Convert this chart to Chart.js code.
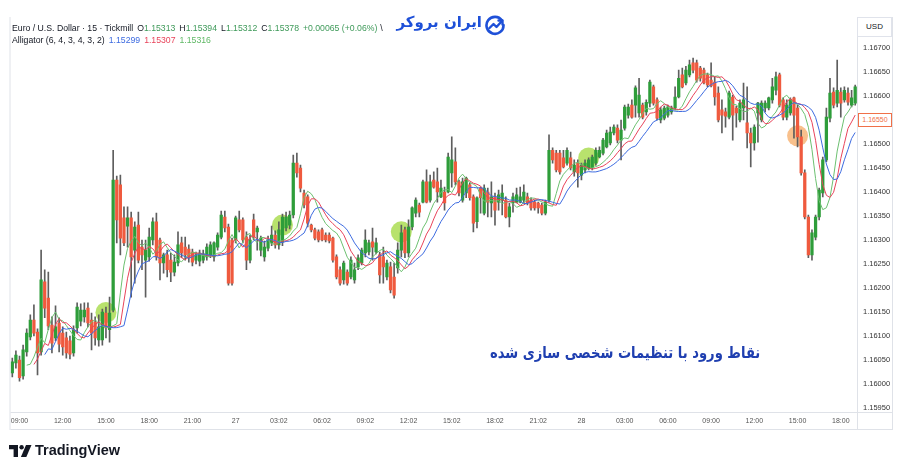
<!DOCTYPE html>
<html>
<head>
<meta charset="utf-8">
<script src="https://cdn.jsdelivr.net/npm/chart.js@4.4.1/dist/chart.umd.min.js"></script>
<style>
html,body{margin:0;padding:0;background:#fff;}
#wrap{position:relative;width:900px;height:471px;overflow:hidden;font-family:"Liberation Sans",Arial,sans-serif;}
#c{position:absolute;left:0;top:0;}
.hdr{position:absolute;left:12px;font-size:8.7px;color:#131722;white-space:nowrap;line-height:10px;}
.hdr .g{color:#3f9a5a;}
.hdr .sp{margin-left:4px;}
.hdr .sp2{margin-left:3px;}
.logo{position:absolute;right:418px;top:13px;font-family:"DejaVu Sans",sans-serif;font-weight:bold;font-size:15px;color:#1e50d8;direction:rtl;white-space:nowrap;}
.usd{position:absolute;left:857px;top:17px;width:35px;height:20px;border:1px solid #e0e3eb;box-sizing:border-box;background:#fff;font-size:8px;color:#131722;text-align:center;line-height:18px;}
.pbox{position:absolute;left:858px;top:113px;width:34px;height:14px;border:1px solid #f07048;box-sizing:border-box;background:#fff;font-size:7px;color:#f07048;text-align:center;line-height:12px;}
.fa{position:absolute;left:490px;top:343px;font-family:"DejaVu Sans",sans-serif;font-weight:bold;font-size:16px;color:#1f3fb0;direction:rtl;white-space:nowrap;transform:scaleX(0.82);transform-origin:0 0;}
.tv{position:absolute;left:35px;top:442px;font-family:"Liberation Sans",Arial,sans-serif;font-weight:bold;font-size:14.5px;color:#131722;white-space:nowrap;}
</style>
</head>
<body>
<div id="wrap">
<canvas id="c" width="900" height="471"></canvas>
<div class="hdr" style="top:23px">Euro / U.S. Dollar · 15 · Tickmill<span class="sp">O</span><span class="g">1.15313</span><span class="sp">H</span><span class="g">1.15394</span><span class="sp">L</span><span class="g">1.15312</span><span class="sp">C</span><span class="g">1.15378</span><span class="sp g">+0.00065 (+0.06%)</span><span class="sp2">\</span></div>
<div class="hdr" style="top:35px">Alligator (6, 4, 3, 4, 3, 2)<span class="sp" style="color:#3d6be0">1.15299</span><span class="sp" style="color:#e8435a">1.15307</span><span class="sp" style="color:#5fb865">1.15316</span></div>
<div class="logo">ایران بروکر</div>
<svg style="position:absolute;left:484px;top:14px" width="22" height="22" viewBox="0 0 22 22"><path d="M18 6.5A8.5 8.5 0 1 0 19.5 11" fill="none" stroke="#1e50d8" stroke-width="2.6" stroke-linecap="round"/><path d="M5.5 14l4-4 3 3 5-5.5" fill="none" stroke="#1e50d8" stroke-width="2.4" stroke-linecap="round" stroke-linejoin="round"/><path d="M14.5 6.5h4v4" fill="none" stroke="#1e50d8" stroke-width="2.4" stroke-linecap="round" stroke-linejoin="round"/></svg>
<div class="usd">USD</div>
<div class="pbox">1.16550</div>
<div class="fa">نقاط ورود با تنظیمات شخصی سازی شده</div>
<svg style="position:absolute;left:9px;top:445px" width="23" height="12" viewBox="0 0 23 12"><path d="M0 0h9v12H4.6V4.2H0z" fill="#131722"/><circle cx="12.6" cy="2.2" r="2.2" fill="#131722"/><path d="M17 0h5.5l-5.2 12h-5.4z" fill="#131722"/></svg>
<div class="tv">TradingView</div>
</div>
<script>
// ---- Data (EUR/USD, 15 min candles) ----
const open = [1.16023,1.16044,1.16050,1.16017,1.16067,1.16098,1.16133,1.16108,1.16067,1.16213,1.16179,1.16123,1.16096,1.16127,1.16106,1.16096,1.16090,1.16065,1.16117,1.16131,1.16140,1.16158,1.16133,1.16129,1.16092,1.16092,1.16148,1.16113,1.16154,1.16425,1.16415,1.16346,1.16329,1.16346,1.16279,1.16331,1.16285,1.16258,1.16265,1.16300,1.16338,1.16300,1.16252,1.16269,1.16258,1.16233,1.16252,1.16294,1.16285,1.16281,1.16275,1.16258,1.16256,1.16258,1.16265,1.16269,1.16265,1.16285,1.16306,1.16348,1.16327,1.16300,1.16300,1.16342,1.16342,1.16306,1.16258,1.16342,1.16317,1.16279,1.16265,1.16283,1.16294,1.16310,1.16290,1.16296,1.16325,1.16331,1.16352,1.16460,1.16450,1.16398,1.16390,1.16331,1.16321,1.16317,1.16321,1.16310,1.16310,1.16304,1.16265,1.16238,1.16217,1.16233,1.16223,1.16217,1.16244,1.16252,1.16273,1.16275,1.16296,1.16275,1.16269,1.16265,1.16223,1.16244,1.16223,1.16242,1.16279,1.16321,1.16273,1.16327,1.16356,1.16373,1.16379,1.16421,1.16383,1.16425,1.16421,1.16390,1.16400,1.16400,1.16440,1.16463,1.16421,1.16383,1.16398,1.16415,1.16390,1.16338,1.16408,1.16356,1.16400,1.16377,1.16390,1.16379,1.16383,1.16383,1.16348,1.16377,1.16379,1.16379,1.16383,1.16390,1.16383,1.16379,1.16377,1.16373,1.16356,1.16383,1.16487,1.16481,1.16481,1.16471,1.16460,1.16471,1.16442,1.16460,1.16435,1.16446,1.16450,1.16450,1.16460,1.16473,1.16481,1.16494,1.16502,1.16523,1.16533,1.16508,1.16533,1.16560,1.16581,1.16581,1.16565,1.16581,1.16567,1.16585,1.16619,1.16592,1.16550,1.16554,1.16560,1.16567,1.16575,1.16598,1.16644,1.16627,1.16644,1.16669,1.16669,1.16658,1.16654,1.16644,1.16633,1.16629,1.16606,1.16571,1.16567,1.16556,1.16598,1.16575,1.16550,1.16575,1.16544,1.16523,1.16502,1.16565,1.16550,1.16575,1.16575,1.16592,1.16612,1.16644,1.16592,1.16556,1.16565,1.16596,1.16575,1.16515,1.16440,1.16348,1.16269,1.16306,1.16348,1.16398,1.16467,1.16554,1.16608,1.16585,1.16608,1.16592,1.16606,1.16581,1.16585];
const high = [1.16054,1.16069,1.16058,1.16081,1.16115,1.16144,1.16165,1.16115,1.16279,1.16238,1.16233,1.16140,1.16163,1.16138,1.16119,1.16108,1.16100,1.16121,1.16169,1.16167,1.16169,1.16169,1.16148,1.16140,1.16144,1.16156,1.16160,1.16181,1.16487,1.16433,1.16435,1.16369,1.16369,1.16358,1.16338,1.16358,1.16300,1.16300,1.16325,1.16346,1.16356,1.16304,1.16273,1.16279,1.16273,1.16269,1.16317,1.16306,1.16306,1.16290,1.16281,1.16275,1.16279,1.16279,1.16292,1.16296,1.16296,1.16315,1.16360,1.16360,1.16333,1.16304,1.16350,1.16360,1.16346,1.16317,1.16310,1.16354,1.16329,1.16308,1.16298,1.16308,1.16329,1.16319,1.16338,1.16354,1.16358,1.16360,1.16477,1.16481,1.16456,1.16404,1.16394,1.16333,1.16325,1.16321,1.16325,1.16315,1.16315,1.16306,1.16269,1.16244,1.16256,1.16238,1.16265,1.16252,1.16269,1.16283,1.16321,1.16300,1.16325,1.16304,1.16275,1.16285,1.16258,1.16254,1.16252,1.16294,1.16331,1.16327,1.16342,1.16369,1.16388,1.16377,1.16425,1.16446,1.16435,1.16442,1.16450,1.16425,1.16410,1.16481,1.16515,1.16492,1.16425,1.16429,1.16431,1.16419,1.16394,1.16390,1.16410,1.16415,1.16408,1.16421,1.16398,1.16404,1.16415,1.16390,1.16377,1.16398,1.16408,1.16410,1.16415,1.16398,1.16388,1.16383,1.16379,1.16377,1.16383,1.16519,1.16492,1.16487,1.16487,1.16487,1.16492,1.16483,1.16467,1.16467,1.16460,1.16467,1.16471,1.16477,1.16492,1.16494,1.16512,1.16529,1.16535,1.16540,1.16540,1.16550,1.16581,1.16583,1.16592,1.16621,1.16637,1.16585,1.16592,1.16633,1.16623,1.16596,1.16577,1.16579,1.16581,1.16579,1.16619,1.16654,1.16658,1.16662,1.16675,1.16679,1.16675,1.16662,1.16658,1.16648,1.16669,1.16640,1.16619,1.16592,1.16575,1.16610,1.16602,1.16579,1.16592,1.16627,1.16619,1.16533,1.16540,1.16587,1.16590,1.16590,1.16598,1.16637,1.16650,1.16648,1.16596,1.16592,1.16596,1.16598,1.16581,1.16529,1.16446,1.16352,1.16321,1.16352,1.16408,1.16473,1.16575,1.16637,1.16617,1.16675,1.16617,1.16619,1.16617,1.16612,1.16623];
const low = [1.16015,1.16033,1.16006,1.16010,1.16058,1.16092,1.16100,1.16019,1.16060,1.16138,1.16113,1.16065,1.16090,1.16067,1.16060,1.16054,1.16052,1.16058,1.16106,1.16121,1.16129,1.16119,1.16071,1.16081,1.16079,1.16081,1.16096,1.16087,1.16150,1.16294,1.16269,1.16288,1.16285,1.16181,1.16210,1.16252,1.16238,1.16181,1.16256,1.16290,1.16258,1.16217,1.16231,1.16223,1.16213,1.16225,1.16246,1.16263,1.16258,1.16254,1.16246,1.16250,1.16246,1.16252,1.16258,1.16263,1.16256,1.16279,1.16302,1.16317,1.16206,1.16206,1.16294,1.16317,1.16294,1.16238,1.16252,1.16300,1.16279,1.16267,1.16256,1.16277,1.16288,1.16283,1.16281,1.16288,1.16319,1.16323,1.16346,1.16431,1.16400,1.16367,1.16327,1.16317,1.16300,1.16296,1.16298,1.16296,1.16294,1.16254,1.16219,1.16206,1.16208,1.16206,1.16219,1.16210,1.16238,1.16248,1.16265,1.16269,1.16258,1.16271,1.16210,1.16210,1.16217,1.16190,1.16179,1.16231,1.16265,1.16263,1.16265,1.16321,1.16348,1.16348,1.16377,1.16377,1.16379,1.16408,1.16379,1.16388,1.16362,1.16398,1.16410,1.16415,1.16392,1.16379,1.16388,1.16383,1.16317,1.16325,1.16356,1.16352,1.16348,1.16348,1.16331,1.16362,1.16352,1.16346,1.16327,1.16358,1.16377,1.16377,1.16377,1.16373,1.16362,1.16362,1.16356,1.16352,1.16352,1.16379,1.16460,1.16442,1.16437,1.16450,1.16456,1.16446,1.16433,1.16410,1.16425,1.16440,1.16446,1.16446,1.16456,1.16471,1.16477,1.16492,1.16498,1.16519,1.16502,1.16467,1.16529,1.16554,1.16554,1.16556,1.16556,1.16552,1.16560,1.16577,1.16581,1.16550,1.16544,1.16550,1.16556,1.16562,1.16571,1.16596,1.16617,1.16623,1.16640,1.16648,1.16629,1.16631,1.16625,1.16619,1.16619,1.16581,1.16546,1.16523,1.16535,1.16552,1.16508,1.16535,1.16546,1.16550,1.16492,1.16452,1.16487,1.16504,1.16546,1.16567,1.16571,1.16585,1.16602,1.16577,1.16550,1.16550,1.16560,1.16512,1.16494,1.16435,1.16344,1.16263,1.16258,1.16300,1.16342,1.16390,1.16463,1.16546,1.16575,1.16577,1.16556,1.16587,1.16581,1.16577,1.16581];
const close = [1.16046,1.16060,1.16013,1.16071,1.16106,1.16133,1.16106,1.16065,1.16217,1.16158,1.16121,1.16085,1.16119,1.16083,1.16077,1.16065,1.16062,1.16113,1.16160,1.16154,1.16154,1.16127,1.16106,1.16096,1.16119,1.16150,1.16117,1.16148,1.16425,1.16342,1.16304,1.16294,1.16346,1.16265,1.16327,1.16258,1.16269,1.16279,1.16306,1.16338,1.16265,1.16252,1.16269,1.16238,1.16233,1.16254,1.16290,1.16273,1.16269,1.16263,1.16254,1.16269,1.16273,1.16271,1.16285,1.16290,1.16294,1.16310,1.16352,1.16325,1.16210,1.16210,1.16346,1.16321,1.16300,1.16258,1.16300,1.16306,1.16325,1.16304,1.16285,1.16300,1.16310,1.16290,1.16321,1.16348,1.16348,1.16352,1.16460,1.16440,1.16408,1.16373,1.16335,1.16321,1.16304,1.16300,1.16300,1.16300,1.16298,1.16258,1.16223,1.16210,1.16252,1.16210,1.16258,1.16238,1.16263,1.16279,1.16300,1.16294,1.16285,1.16294,1.16227,1.16244,1.16252,1.16196,1.16185,1.16279,1.16315,1.16273,1.16327,1.16367,1.16383,1.16358,1.16421,1.16379,1.16421,1.16410,1.16400,1.16408,1.16377,1.16473,1.16467,1.16421,1.16398,1.16421,1.16429,1.16388,1.16335,1.16388,1.16388,1.16408,1.16379,1.16390,1.16362,1.16394,1.16398,1.16348,1.16369,1.16390,1.16394,1.16390,1.16400,1.16377,1.16367,1.16367,1.16367,1.16356,1.16379,1.16487,1.16467,1.16446,1.16442,1.16452,1.16487,1.16450,1.16456,1.16440,1.16456,1.16460,1.16467,1.16473,1.16487,1.16487,1.16508,1.16523,1.16525,1.16535,1.16508,1.16529,1.16577,1.16577,1.16556,1.16617,1.16602,1.16556,1.16587,1.16629,1.16585,1.16554,1.16571,1.16575,1.16577,1.16575,1.16598,1.16637,1.16619,1.16654,1.16665,1.16654,1.16633,1.16637,1.16627,1.16623,1.16621,1.16598,1.16550,1.16560,1.16558,1.16606,1.16560,1.16565,1.16585,1.16592,1.16523,1.16502,1.16535,1.16585,1.16585,1.16585,1.16596,1.16619,1.16640,1.16581,1.16556,1.16581,1.16592,1.16560,1.16515,1.16440,1.16348,1.16269,1.16315,1.16348,1.16404,1.16467,1.16556,1.16606,1.16581,1.16612,1.16585,1.16612,1.16587,1.16596,1.16619];

// time-axis ticks (candle index -> label)
const tickIndex  = [2,14,26,38,50,62,74,86,98,110,122,134,146,158,170,182,194,206,218,230];
const tickLabels = ["09:00","12:00","15:00","18:00","21:00","27","03:02","06:02","09:02","12:02","15:02","18:02","21:02","28","03:00","06:00","09:00","12:00","15:00","18:00"];

// entry-point highlight circles
const circleIndex = [26, 75, 108, 160, 218];
const circlePrice = [1.16149, 1.16331, 1.16317, 1.16471, 1.16517];
const circleKind  = ["buy", "buy", "buy", "buy", "sell"];

// indicator settings shown in the legend: Alligator (6, 4, 3, 4, 3, 2)
const jawLen = 6, teethLen = 4, lipsLen = 3, jawOff = 4, teethOff = 3, lipsOff = 2;

// ---- build ----
const N = open.length;
const categories = [];
for (let i = 0; i < N; i++) {
  const m = 8 * 60 + 30 + i * 15;
  const hh = Math.floor(m / 60) % 24, mm = m % 60;
  categories.push(String(hh).padStart(2, "0") + ":" + String(mm).padStart(2, "0"));
}

// Alligator = smoothed moving averages of the median price of the candles above
const median = high.map((h, i) => (h + low[i]) / 2);
function smma(src, len) {
  const out = []; let prev = null;
  for (let i = 0; i < src.length; i++) {
    if (i < len - 1) { out.push(null); continue; }
    if (prev === null) { let s = 0; for (let k = i - len + 1; k <= i; k++) s += src[k]; prev = s / len; }
    else prev = (prev * (len - 1) + src[i]) / len;
    out.push(prev);
  }
  return out;
}
function shifted(arr, n) { return arr.map((v, i) => (i - n >= 0 ? arr[i - n] : null)); }
const jaw = shifted(smma(median, jawLen), jawOff);
const teeth = shifted(smma(median, teethLen), teethOff);
const lips = shifted(smma(median, lipsLen), lipsOff);

const hlData = new Array(N).fill(null);
const hlColor = new Array(N).fill("rgba(0,0,0,0)");
circleIndex.forEach((ix, k) => {
  hlData[ix] = circlePrice[k];
  hlColor[ix] = circleKind[k] === "buy" ? "rgba(150,212,40,0.68)" : "rgba(244,160,80,0.66)";
});

const UP = "#2e9d3a", DOWN = "#ef5a3e", WICK = "#5e5e5e";

Chart.defaults.font.family = '"Liberation Sans", Arial, sans-serif';

const framePlugin = {
  id: "frame",
  afterDraw(chart) {
    const { ctx, chartArea: a } = chart;
    const xs = chart.scales.x, ys = chart.scales.y;
    ctx.save();
    ctx.strokeStyle = "#dfe2e8";
    ctx.lineWidth = 1;
    const L = (x1, y1, x2, y2) => { ctx.beginPath(); ctx.moveTo(x1, y1); ctx.lineTo(x2, y2); ctx.stroke(); };
    L(a.left - 0.5, a.top, a.left - 0.5, xs.bottom);
    L(a.right + 0.5, a.top, a.right + 0.5, xs.bottom);
    L(ys.right - 0.5, a.top, ys.right - 0.5, xs.bottom);
    L(a.left, a.bottom + 0.5, ys.right, a.bottom + 0.5);
    L(a.left, xs.bottom - 0.5, ys.right, xs.bottom - 0.5);
    ctx.restore();
  }
};

new Chart(document.getElementById("c"), {
  data: {
    labels: categories,
    datasets: [
      { type: "line", label: "Jaw", data: jaw, borderColor: "#3d6be0", borderWidth: 1, pointRadius: 0, order: 1 },
      { type: "line", label: "Teeth", data: teeth, borderColor: "#e8435a", borderWidth: 1, pointRadius: 0, order: 1 },
      { type: "line", label: "Lips", data: lips, borderColor: "#6cc070", borderWidth: 1, pointRadius: 0, order: 1 },
      { type: "bar", label: "Body", data: open.map((o, i) => [o, close[i]]),
        backgroundColor: c => (close[c.dataIndex] >= open[c.dataIndex] ? UP : DOWN),
        barThickness: 2.6, grouped: false, order: 2 },
      { type: "bar", label: "Wick", data: low.map((l, i) => [l, high[i]]),
        backgroundColor: WICK, barThickness: 1, grouped: false, order: 3 },
      { type: "line", label: "Entry", data: hlData, showLine: false, pointRadius: 10.5, pointHoverRadius: 10.5,
        pointBackgroundColor: hlColor, pointBorderWidth: 0, order: 4 }
    ]
  },
  options: {
    responsive: false,
    animation: false,
    events: [],
    layout: { padding: { left: 6, top: 17, right: 7, bottom: 41 } },
    plugins: { legend: { display: false }, tooltip: { enabled: false } },
    scales: {
      x: {
        type: "category", offset: true,
        grid: { display: false, drawTicks: false, tickLength: 0 }, border: { display: false },
        afterFit: s => { s.height = 18; },
        ticks: {
          autoSkip: false, maxRotation: 0, minRotation: 0, padding: 5,
          font: { size: 7 }, color: "#555",
          callback: (v, i) => { const k = tickIndex.indexOf(i); return k >= 0 ? tickLabels[k] : null; }
        }
      },
      y: {
        position: "right", min: 1.1594167, max: 1.1676458,
        grid: { display: false, drawTicks: false, tickLength: 0 }, border: { display: false },
        afterFit: s => { s.width = 36; },
        ticks: {
          stepSize: 0.0005, includeBounds: false, padding: 6,
          font: { size: 7.5 }, color: "#333",
          callback: v => (v > 1.16705 ? null : Number(v).toFixed(5))
        }
      }
    }
  },
  plugins: [framePlugin]
});
</script>
</body>
</html>
